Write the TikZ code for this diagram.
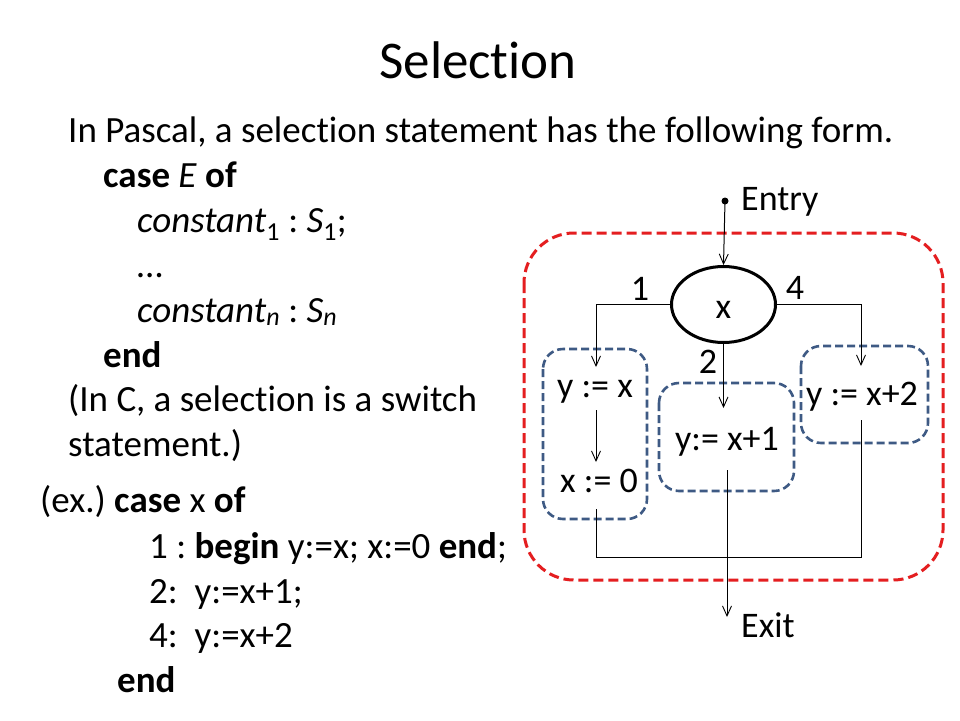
\documentclass[tikz,border=0pt]{standalone}
\usepackage{fontspec}
\setmainfont{Carlito}[Ligatures={NoCommon}]
\usetikzlibrary{arrows.meta,shapes.geometric}
\definecolor{redbox}{RGB}{228,30,32}
\definecolor{bluebox}{RGB}{62,90,132}
\frenchspacing
\tikzset{
  body/.style={anchor=base west,inner sep=0pt,font=\fontsize{37}{44}\selectfont},
  dtext/.style={anchor=base,inner sep=0pt,font=\fontsize{36}{42}\selectfont},
  conn/.style={line width=1pt,draw=black},
  arr/.style={conn,-{Straight Barb[length=10pt,width=9pt,line width=0.9pt]}},
  outerbox/.style={draw=redbox,line width=3pt,dash pattern=on 10pt off 5pt,rounded corners=50pt},
  innerbox/.style={draw=bluebox,line width=2.6pt,dash pattern=on 8pt off 4pt,rounded corners=20pt},
}
\begin{document}
\begin{tikzpicture}[x=1pt,y=-1pt]
\useasboundingbox[fill=white] (0,0) rectangle (960,720);
% title
\node[anchor=base,inner sep=0pt,font=\fontsize{53}{60}\selectfont] (title) at (478,78) {Selection};
% left text
\node[body] (l1) at (68,142) {In Pascal, a selection statement has the following form.};
\node[body] (l2) at (103,187) {\textbf{case} \textit{E} \textbf{of}};
\node[body] (l3) at (137,232) {\textit{constant}\textsubscript{1} : \textit{S}\textsubscript{1};};
\node[body] (l4) at (137,277) {…};
\node[body] (l5) at (137,322) {\textit{constant\textsubscript{n}} : \textit{S\textsubscript{n}}};
\node[body] (l6) at (103,367) {\textbf{end}};
\node[body] (l7) at (68,411) {(In C, a selection is a switch};
\node[body] (l8) at (68,456) {statement.)};
% example
\node[body] (e1) at (40,512) {(ex.) \textbf{case} x \textbf{of}};
\node[body] (e2) at (149,558) {1 : \textbf{begin} y:=x; x:=0 \textbf{end};};
\node[body] (e3) at (149,603) {2:\ \ y:=x+1;};
\node[body] (e4) at (149,647) {4:\ \ y:=x+2};
\node[body] (e5) at (117,692) {\textbf{end}};
% boxes
\draw[outerbox] (524,233) rectangle (943,580);
\draw[innerbox] (543,349) rectangle (647,519);
\draw[innerbox] (659,383) rectangle (794,491);
\draw[innerbox] (801,346) rectangle (928,443);
% nodes
\fill (725,201) circle (3.5pt);
\coordinate (dot) at (725,201);
\node[dtext,anchor=base west] (entry) at (741,210) {Entry};
\node[draw,ellipse,line width=3pt,minimum width=104pt,minimum height=76pt,inner sep=0pt] (sel) at (723.5,304.5) {};
\node[dtext] (xlab) at (723.5,318) {x};
\node[dtext] (one) at (640,300) {1};
\node[dtext] (four) at (795,299) {4};
\node[dtext] (two) at (708,373) {2};
\node[dtext] (s1a) at (595,397) {y := x};
\node[dtext] (s1b) at (599,492) {x := 0};
\node[dtext] (s2) at (727,450) {y:= x+1};
\node[dtext] (s4) at (862,405) {y := x+2};
\node[dtext,anchor=base west] (exit) at (741,637) {Exit};
% coordinates
\coordinate (a1) at (596,367);
\coordinate (a4) at (861,366);
\coordinate (a2) at (723.5,408);
\coordinate (b1s) at (596,410);
\coordinate (b1e) at (596,462);
\coordinate (c1) at (596,509);
\coordinate (c4) at (861,420);
\coordinate (j1) at (596,557);
\coordinate (j4) at (861,557);
\coordinate (c2) at (727,470);
\coordinate (ex) at (727,617);
% connectors
\draw[arr] (dot) -- (sel.north);
\draw[arr] (sel.west) -| (a1);
\draw[arr] (sel.east) -| (a4);
\draw[arr] (sel.south) -- (a2);
\draw[arr] (b1s) -- (b1e);
\draw[conn] (c1) -- (j1) -- (j4) -- (c4);
\draw[arr] (c2) -- (ex);
\end{tikzpicture}
\end{document}
